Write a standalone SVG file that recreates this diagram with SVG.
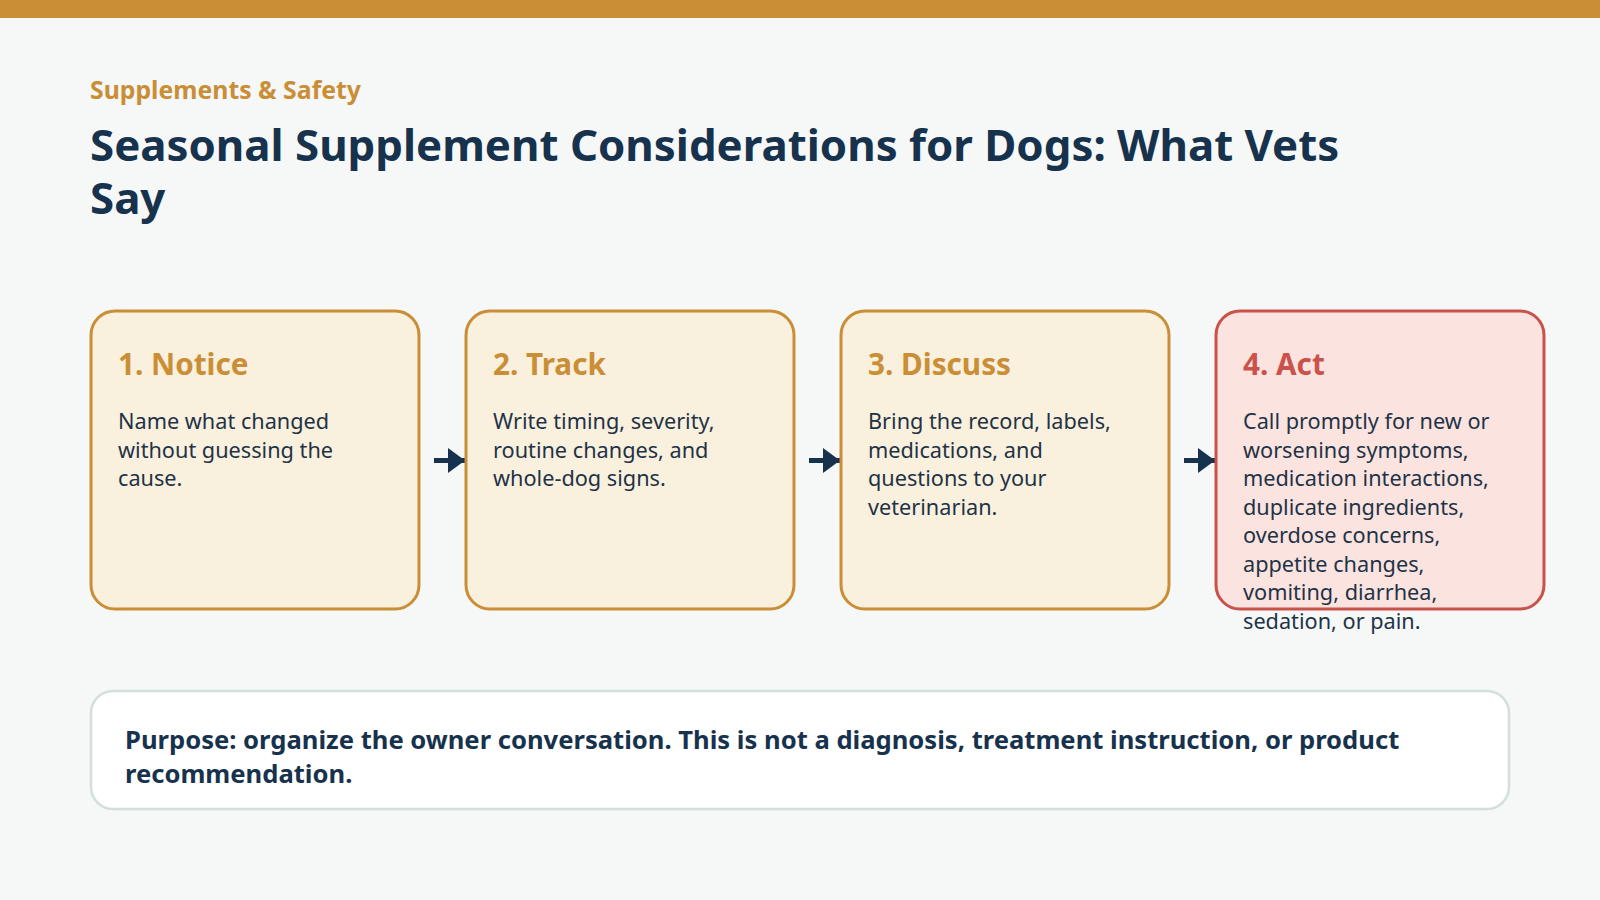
<svg xmlns="http://www.w3.org/2000/svg" width="1600" height="900" viewBox="0 0 1600 900">
<style>
.bg{fill:#f6f8f8}
.bar{fill:#c98e36}
.kicker{font-family:"Noto Sans",sans-serif;font-weight:700;font-size:24.8px;fill:#c98e36}
.title{font-family:"Noto Sans",sans-serif;font-weight:700;font-size:43.8px;fill:#17324d}
.box{fill:#faf0de;stroke:#c98e36;stroke-width:3}
.box.alert{fill:#fbe3e0;stroke:#c9534a}
.head{font-family:"Noto Sans",sans-serif;font-weight:700;font-size:29.7px;fill:#c98e36}
.head.alert{fill:#c9534a}
.body{font-family:"Noto Sans",sans-serif;font-size:21.7px;fill:#1f3346}
.note{fill:#ffffff;stroke:#d3dfdc;stroke-width:2.5}
.notetext{font-family:"Noto Sans",sans-serif;font-weight:700;font-size:25.6px;fill:#17324d}
.conn{stroke:#17324d;stroke-width:5;fill:none}
</style>
<defs>
<marker id="ah" viewBox="0 0 17 25" refX="17" refY="12.5" markerWidth="17" markerHeight="25" markerUnits="userSpaceOnUse" orient="auto">
<path d="M0,0 L17,12.5 L0,25 z" fill="#17324d"/>
</marker>
</defs>
<rect class="bg" x="0" y="0" width="1600" height="900"/>
<rect class="bar" x="0" y="0" width="1600" height="18"/>
<text class="kicker" x="90" y="99">Supplements &amp; Safety</text>
<text class="title" x="90" y="161">Seasonal Supplement Considerations for Dogs: What Vets</text>
<text class="title" x="90" y="214">Say</text>

<g id="connectors">
<path class="conn" d="M434,460.5 H465" marker-end="url(#ah)"/>
<path class="conn" d="M809,460.5 H840" marker-end="url(#ah)"/>
<path class="conn" d="M1184,460.5 H1215" marker-end="url(#ah)"/>
</g>

<g id="node1">
<rect class="box" x="91" y="311" width="328" height="298" rx="24"/>
<text class="head" x="118" y="375">1. Notice</text>
<text class="body" x="118" y="429">Name what changed</text>
<text class="body" x="118" y="457.5">without guessing the</text>
<text class="body" x="118" y="486">cause.</text>
</g>
<g id="node2">
<rect class="box" x="466" y="311" width="328" height="298" rx="24"/>
<text class="head" x="493" y="375">2. Track</text>
<text class="body" x="493" y="429">Write timing, severity,</text>
<text class="body" x="493" y="457.5">routine changes, and</text>
<text class="body" x="493" y="486">whole-dog signs.</text>
</g>
<g id="node3">
<rect class="box" x="841" y="311" width="328" height="298" rx="24"/>
<text class="head" x="868" y="375">3. Discuss</text>
<text class="body" x="868" y="429">Bring the record, labels,</text>
<text class="body" x="868" y="457.5">medications, and</text>
<text class="body" x="868" y="486">questions to your</text>
<text class="body" x="868" y="514.5">veterinarian.</text>
</g>
<g id="node4">
<rect class="box alert" x="1216" y="311" width="328" height="298" rx="24"/>
<text class="head alert" x="1243" y="375">4. Act</text>
<text class="body" x="1243" y="429">Call promptly for new or</text>
<text class="body" x="1243" y="457.5">worsening symptoms,</text>
<text class="body" x="1243" y="486">medication interactions,</text>
<text class="body" x="1243" y="514.5">duplicate ingredients,</text>
<text class="body" x="1243" y="543">overdose concerns,</text>
<text class="body" x="1243" y="571.5">appetite changes,</text>
<text class="body" x="1243" y="600">vomiting, diarrhea,</text>
<text class="body" x="1243" y="628.5">sedation, or pain.</text>
</g>

<g id="note">
<rect class="note" x="91" y="691" width="1418" height="118" rx="22"/>
<text class="notetext" x="125" y="749">Purpose: organize the owner conversation. This is not a diagnosis, treatment instruction, or product</text>
<text class="notetext" x="125" y="783">recommendation.</text>
</g>
</svg>
